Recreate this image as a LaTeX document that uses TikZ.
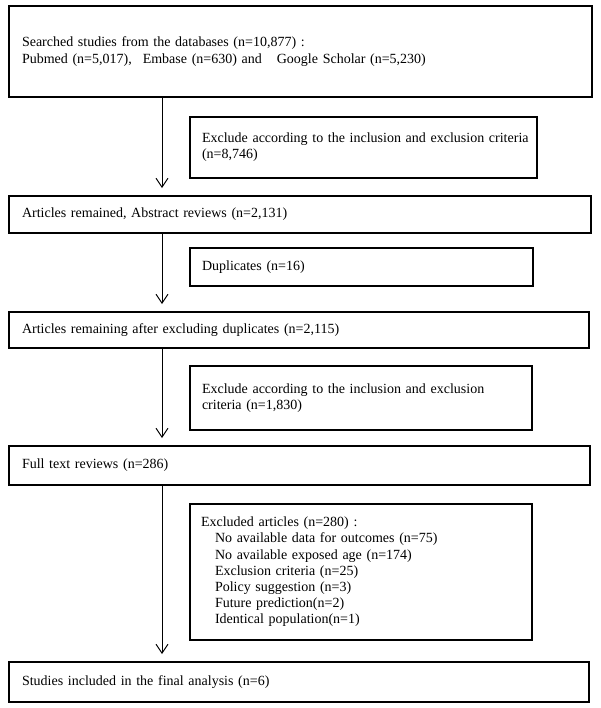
\documentclass[tikz,border=0pt]{standalone}
\usepackage{fontspec}
\setmainfont{Liberation Serif}
\usetikzlibrary{arrows.meta}
\begin{document}
\begin{tikzpicture}[x=1pt,y=-1pt,
  bx/.style={draw, line width=1.8pt, rectangle, inner xsep=0pt, inner ysep=0pt,
    align=left, font=\fontsize{14}{16.2}\selectfont},
  arr/.style={line width=1pt, -{Straight Barb[length=9pt,width=12pt,line width=1pt]}, shorten >=7pt}]
\useasboundingbox (0,0) rectangle (600,708);
\coordinate (ax) at (162,0);
\node[bx, minimum width=583pt, minimum height=91pt, text width=557pt] (b1) at (300.5,51.5)
  {\mbox{Searched studies from the databases (n=10,877) :}\\
   \mbox{Pubmed (n=5,017),\hspace{11pt}Embase (n=630) and\hspace{15pt}Google Scholar (n=5,230)}};
\node[bx, minimum width=347pt, minimum height=61pt, text width=323pt] (b2) at (363.5,147.5)
  {\mbox{Exclude according to the inclusion and exclusion criteria}\\(n=8,746)};
\node[bx, minimum width=582pt, minimum height=37pt, text width=556pt] (b3) at (300,214.5)
  {Articles remained, Abstract reviews (n=2,131)};
\node[bx, minimum width=343pt, minimum height=38pt, text width=319pt] (b4) at (361.5,267)
  {Duplicates (n=16)};
\node[bx, minimum width=580pt, minimum height=36pt, text width=554pt] (b5) at (299,330)
  {Articles remaining after excluding duplicates (n=2,115)};
\node[bx, minimum width=342pt, minimum height=64pt, text width=318pt] (b6) at (361,398)
  {\mbox{Exclude according to the inclusion and exclusion}\\criteria (n=1,830)};
\node[bx, minimum width=581pt, minimum height=39pt, text width=555pt] (b7) at (299.5,465.5)
  {Full text reviews (n=286)};
\node[bx, minimum width=342pt, minimum height=136pt, text width=320pt] (b8) at (361,572)
  {Excluded articles (n=280) :\\
   \hspace*{14pt}No available data for outcomes (n=75)\\
   \hspace*{14pt}No available exposed age (n=174)\\
   \hspace*{14pt}Exclusion criteria (n=25)\\
   \hspace*{14pt}Policy suggestion (n=3)\\
   \hspace*{14pt}Future prediction(n=2)\\
   \hspace*{14pt}Identical population(n=1)};
\node[bx, minimum width=580pt, minimum height=40pt, text width=554pt] (b9) at (299,682)
  {Studies included in the final analysis (n=6)};
\draw[arr] (b1.south -| ax) -- (b3.north -| ax);
\draw[arr] (b3.south -| ax) -- (b5.north -| ax);
\draw[arr] (b5.south -| ax) -- (b7.north -| ax);
\draw[arr] (b7.south -| ax) -- (b9.north -| ax);
\end{tikzpicture}
\end{document}
